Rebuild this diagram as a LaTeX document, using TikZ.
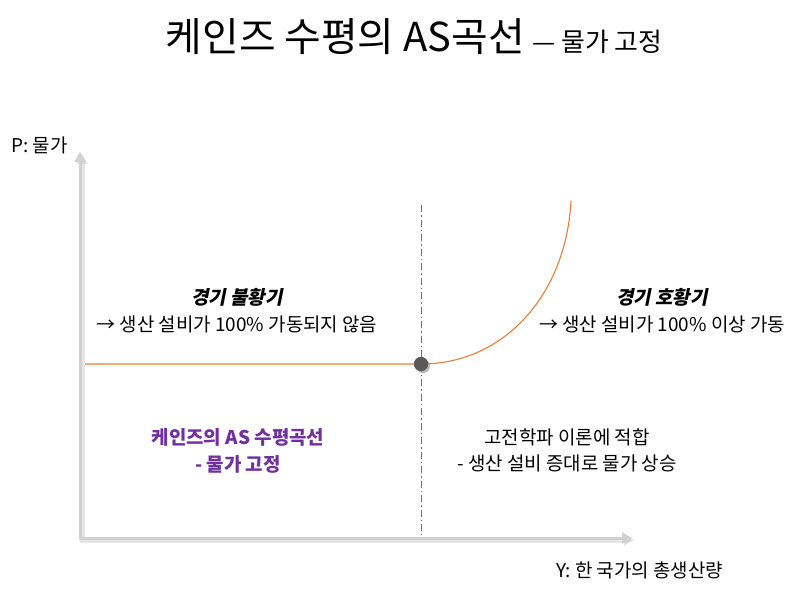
\documentclass[tikz,border=0pt]{standalone}
\usepackage{fontspec}
\setmainfont{Noto Sans CJK KR}
\newfontfamily\krslant[FakeSlant=0.2]{Noto Sans CJK KR}
\usepackage{xcolor}
\definecolor{axisgray}{rgb}{0.82,0.82,0.82}
\definecolor{curveorange}{RGB}{237,125,49}
\definecolor{guideblue}{RGB}{40,130,225}
\definecolor{textpurple}{RGB}{112,48,160}
\definecolor{dotgray}{RGB}{89,89,89}
\usetikzlibrary{positioning, arrows.meta, shadows}

\begin{document}
\begin{tikzpicture}
[x=1bp, y=-1bp,
 node distance=7bp,
 every node/.style={inner sep=1bp, font=\fontsize{19}{22}\selectfont},
 axis/.style={draw=axisgray, line width=3bp,
   {Triangle[length=10bp,width=11bp]}-{Triangle[length=10bp,width=11bp]},
   preaction={draw=black, opacity=0.10, line width=5bp,
     transform canvas={shift={(2bp,-2bp)}}}},
 curve/.style={draw=curveorange, line width=1.1bp},
 guide/.style={draw=guideblue, line width=1bp, dash pattern=on 7bp off 3bp on 1.5bp off 3bp},
 dot/.style={circle, fill=dotgray, minimum size=14bp, inner sep=0pt,
   drop shadow={shadow xshift=2bp, shadow yshift=-2bp, opacity=0.35}},
 head/.style={font=\krslant\bfseries\fontsize{19}{22}\selectfont},
 note/.style={font=\bfseries\fontsize{19}{22}\selectfont, text=textpurple},
]
\useasboundingbox (0,0) rectangle (800,591);

% title
\node[anchor=base] (title) at (414,52)
  {{\fontsize{40}{46}\selectfont 케인즈 수평의 AS곡선}\, {\fontsize{26}{30}\selectfont — 물가 고정}};

% axes
\coordinate (o) at (80,538);
\coordinate (ytip) at (80,152);
\coordinate (xtip) at (632,538);
\draw[axis] (ytip) -- (o) -- (xtip);
\node[anchor=west] (plabel) at (10,145) {P: 물가};
\node[anchor=west] (ylabel) at (555,570) {Y: 한 국가의 총생산량};

% curve
\node[dot] (eq) at (421,364) {};
\coordinate (lstart) at (85,364);
\coordinate (ctop) at (571,201);
\coordinate (gtop) at (421.5,205);
\coordinate (gbot) at (421.5,535);
\draw[guide] (gtop) -- (gbot);
\draw[curve] (lstart) -- (eq.center) .. controls (504,364) and (566,295) .. (ctop);
\node[dot] at (eq) {};

% left side
\node[head] (slump) at (237,297) {경기 불황기};
\node[below=of slump] (slumptxt) {→ 생산 설비가 100\% 가동되지 않음};
\node[note] (keynes) at (238,437) {케인즈의 AS 수평곡선};
\node[note, below=of keynes] (keynes2) {- 물가 고정};

% right side
\node[head] (boom) at (662,297) {경기 호황기};
\node[below=of boom] (boomtxt) {→ 생산 설비가 100\% 이상 가동};
\node (classic) at (567,437) {고전학파 이론에 적합};
\node[below=of classic] (classic2) {- 생산 설비 증대로 물가 상승};
\end{tikzpicture}
\end{document}
